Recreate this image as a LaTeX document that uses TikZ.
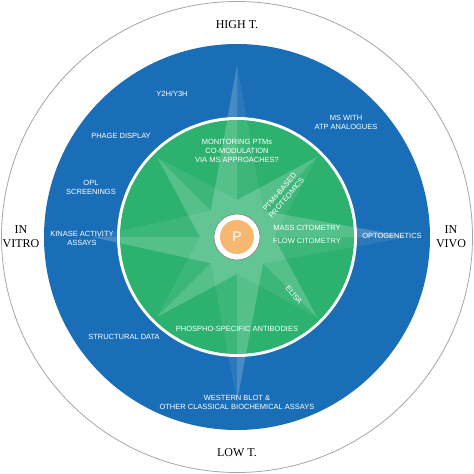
\documentclass[tikz,border=0pt]{standalone}
\usepackage{fontspec}
\setmainfont{Liberation Serif}
\setsansfont{Liberation Sans}
\definecolor{ringblue}{RGB}{26,110,184}
\definecolor{coregreen}{RGB}{44,177,110}
\definecolor{porange}{RGB}{246,183,112}
\tikzset{
  method/.style={text=white,font=\sffamily\fontsize{7.5}{9}\selectfont,align=center,inner sep=0pt},
  axislabel/.style={font=\fontsize{12}{14}\selectfont,align=center,inner sep=0pt},
  spikelight/.style={fill=white,fill opacity=0.2,draw=none},
  spikedark/.style={fill=white,fill opacity=0.08,draw=none}
}
\begin{document}
\begin{tikzpicture}[x=1pt,y=1pt]
\useasboundingbox (-237,-237) rectangle (237,237);
\draw[gray!70,line width=0.8pt] (0,0) circle (235.5);
\fill[ringblue] (0,0) circle (193);
\fill[white] (0,0) circle (120);
\fill[coregreen] (0,0) circle (117);

% compass star
\foreach \a/\r in {90/172,0/172,270/165,180/145,45/113,135/113,225/113,315/113}{
  \fill[spikelight] (0,0) -- (\a:\r) -- (\a+45:37) -- cycle;
  \fill[spikedark] (0,0) -- (\a:\r) -- (\a-45:37) -- cycle;
}

\draw[gray,line width=0.6pt,fill=white] (0,0) circle (23);
\node[circle,fill=porange,minimum size=34pt,inner sep=0pt,text=white,
  font=\sffamily\fontsize{14}{14}\selectfont] (core) at (0,0) {P};

\node[axislabel] (hight) at (0,212) {HIGH T.};
\node[axislabel] (lowt) at (0,-216) {LOW T.};
\node[axislabel] (invitro) at (-216,0) {IN\\VITRO};
\node[axislabel] (invivo) at (214,0) {IN\\VIVO};

\node[method] (y2h) at (-65,143) {Y2H/Y3H};
\node[method] (phage) at (-116,101) {PHAGE DISPLAY};
\node[method] (opl) at (-146,50) {OPL\\SCREENINGS};
\node[method] (kinase) at (-155,-1) {KINASE ACTIVITY\\ASSAYS};
\node[method] (structural) at (-113,-100) {STRUCTURAL DATA};
\node[method] (western) at (0,-165) {WESTERN BLOT \&\\OTHER CLASSICAL BIOCHEMICAL ASSAYS};
\node[method] (atp) at (109,115) {MS WITH\\ATP ANALOGUES};
\node[method] (opto) at (155,1) {OPTOGENETICS};

\node[method] (monitor) at (0,86) {MONITORING PTMs\\CO-MODULATION\\VIA MS APPROACHES?};
\node[method,rotate=50] (ptms) at (46,42) {PTMs-BASED\\PROTEOMICS};
\node[method] (mass) at (70,9) {MASS CITOMETRY};
\node[method] (flow) at (70,-4) {FLOW CITOMETRY};
\node[method,rotate=-50] (elisa) at (57,-58) {ELISA};
\node[method] (phospho) at (0,-92) {PHOSPHO-SPECIFIC ANTIBODIES};
\end{tikzpicture}
\end{document}
